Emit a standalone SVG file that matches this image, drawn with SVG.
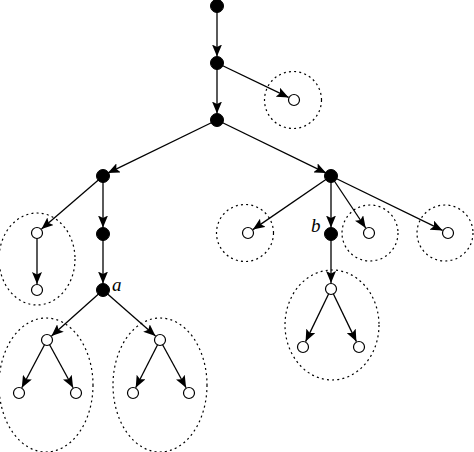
<svg xmlns="http://www.w3.org/2000/svg" width="474" height="452" viewBox="0 0 474 452">
<style>
.e{stroke:#000;stroke-width:1.3;fill:none;marker-end:url(#ah)}
.f{fill:#000;stroke:#000;stroke-width:1}
.o{fill:#fff;stroke:#000;stroke-width:1.2}
.g{fill:none;stroke:#000;stroke-width:1.2;stroke-dasharray:2 3.2}
.l{font-family:"Liberation Serif",serif;font-style:italic;font-size:19px}
</style>
<defs>
<marker id="ah" markerUnits="userSpaceOnUse" markerWidth="13" markerHeight="10" refX="12" refY="5" orient="auto">
<path d="M0,0 L12,5 L0,10 L2.5,5 z" fill="#000"/>
</marker>
</defs>
<rect width="474" height="452" fill="#fff"/>
<g id="groups">
<circle class="g" cx="293" cy="100" r="28.5"/>
<ellipse class="g" cx="37" cy="259" rx="38" ry="46"/>
<circle class="g" cx="245" cy="233" r="28.5"/>
<circle class="g" cx="370" cy="233" r="28"/>
<circle class="g" cx="445" cy="233" r="28"/>
<ellipse class="g" cx="332" cy="325" rx="47" ry="55"/>
<ellipse class="g" cx="46" cy="385" rx="47" ry="67"/>
<ellipse class="g" cx="160" cy="385" rx="47" ry="67"/>
</g>
<g id="connectors">
<line class="e" x1="217" y1="6" x2="217" y2="56.5"/>
<line class="e" x1="217" y1="63" x2="217" y2="113.5"/>
<line class="e" x1="217" y1="63" x2="288.6" y2="97.4"/>
<line class="e" x1="217" y1="120" x2="107.8" y2="173.1"/>
<line class="e" x1="217" y1="120" x2="326.2" y2="173.1"/>
<line class="e" x1="103" y1="176" x2="41.5" y2="229.1"/>
<line class="e" x1="103" y1="176" x2="103" y2="227.5"/>
<line class="e" x1="103" y1="234" x2="103" y2="283.5"/>
<line class="e" x1="37" y1="233" x2="37" y2="284"/>
<line class="e" x1="103" y1="290" x2="51.5" y2="336"/>
<line class="e" x1="103" y1="290" x2="155.5" y2="336"/>
<line class="e" x1="47" y1="340" x2="21.8" y2="387.7"/>
<line class="e" x1="47" y1="340" x2="73.1" y2="387.7"/>
<line class="e" x1="160" y1="340" x2="135.7" y2="387.7"/>
<line class="e" x1="160" y1="340" x2="186.1" y2="387.7"/>
<line class="e" x1="331" y1="176" x2="252.9" y2="229.6"/>
<line class="e" x1="331" y1="176" x2="331" y2="227.5"/>
<line class="e" x1="331" y1="176" x2="365.7" y2="228"/>
<line class="e" x1="331" y1="176" x2="442.6" y2="230.4"/>
<line class="e" x1="331" y1="234" x2="331" y2="283"/>
<line class="e" x1="331" y1="289" x2="305.6" y2="341.6"/>
<line class="e" x1="331" y1="289" x2="356.4" y2="341.6"/>
</g>
<g id="n0"><circle class="f" cx="217" cy="6" r="6.5"/></g>
<g id="n1"><circle class="f" cx="217" cy="63" r="6.5"/></g>
<g id="n2"><circle class="f" cx="217" cy="120" r="6.5"/></g>
<g id="n3"><circle class="f" cx="103" cy="176" r="6.5"/></g>
<g id="n4"><circle class="f" cx="331" cy="176" r="6.5"/></g>
<g id="n5"><circle class="f" cx="103" cy="234" r="6.5"/></g>
<g id="a"><circle class="f" cx="103" cy="290" r="6.5"/><text class="l" x="112" y="291">a</text></g>
<g id="b"><circle class="f" cx="331" cy="234" r="6.5"/><text class="l" x="311" y="232">b</text></g>
<g id="o1"><circle class="o" cx="294" cy="100" r="5.5"/></g>
<g id="o2"><circle class="o" cx="37" cy="233" r="5.5"/></g>
<g id="o3"><circle class="o" cx="37" cy="290" r="5.5"/></g>
<g id="o4"><circle class="o" cx="47" cy="340" r="5.5"/></g>
<g id="o5"><circle class="o" cx="160" cy="340" r="5.5"/></g>
<g id="o6"><circle class="o" cx="19" cy="393" r="5.5"/></g>
<g id="o7"><circle class="o" cx="76" cy="393" r="5.5"/></g>
<g id="o8"><circle class="o" cx="133" cy="393" r="5.5"/></g>
<g id="o9"><circle class="o" cx="189" cy="393" r="5.5"/></g>
<g id="o10"><circle class="o" cx="248" cy="233" r="5.5"/></g>
<g id="o11"><circle class="o" cx="369" cy="233" r="5.5"/></g>
<g id="o12"><circle class="o" cx="448" cy="233" r="5.5"/></g>
<g id="o13"><circle class="o" cx="331" cy="289" r="5.5"/></g>
<g id="o14"><circle class="o" cx="303" cy="347" r="5.5"/></g>
<g id="o15"><circle class="o" cx="359" cy="347" r="5.5"/></g>
</svg>
